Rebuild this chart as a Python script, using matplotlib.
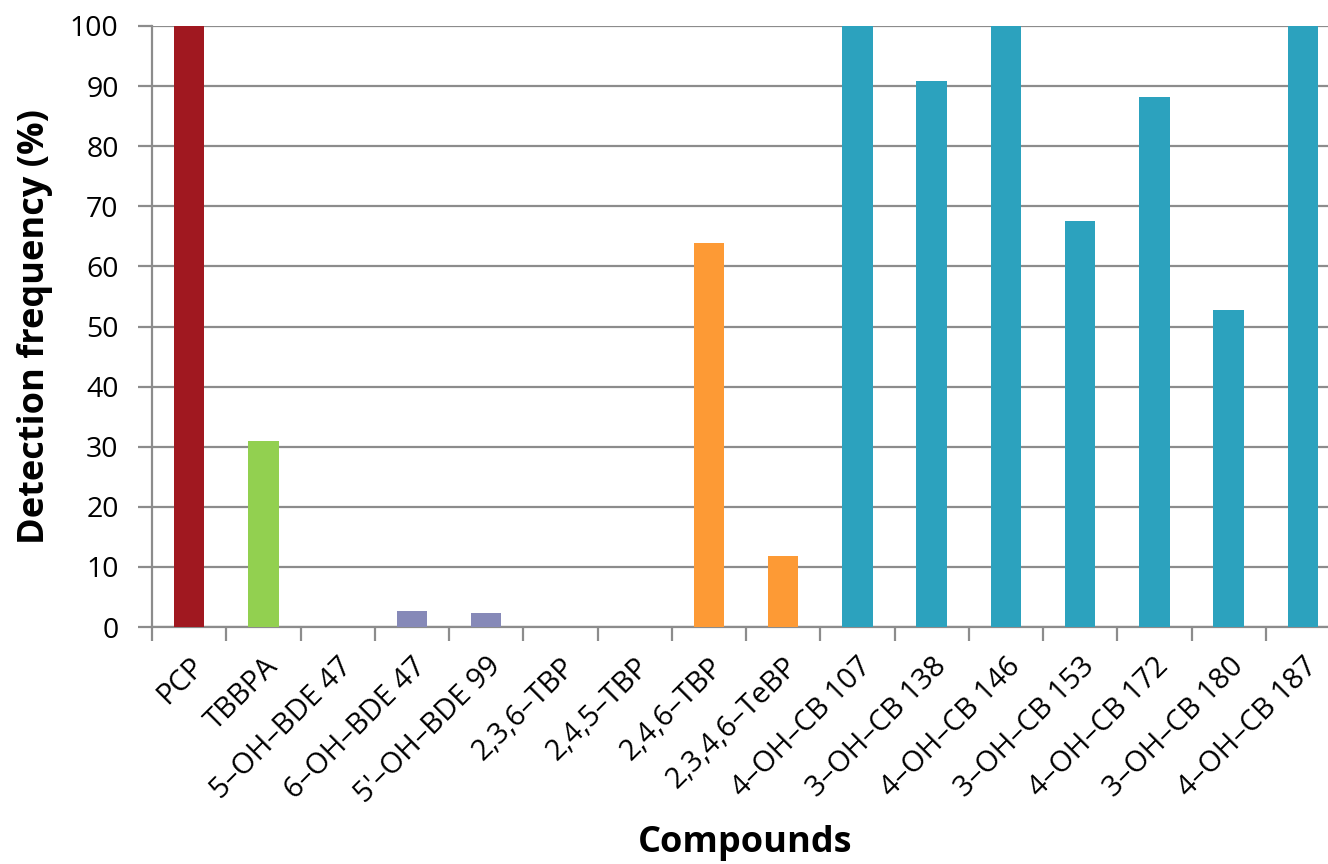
import matplotlib
matplotlib.use("Agg")
import matplotlib.pyplot as plt
import numpy as np

plt.rcParams['font.family'] = ['Open Sans', 'DejaVu Sans']

compounds = ["PCP", "TBBPA", "5–OH–BDE 47", "6–OH–BDE 47", "5'–OH–BDE 99",
             "2,3,6–TBP", "2,4,5–TBP", "2,4,6–TBP", "2,3,4,6–TeBP",
             "4–OH–CB 107", "3–OH–CB 138", "4–OH–CB 146", "3–OH–CB 153",
             "4–OH–CB 172", "3–OH–CB 180", "4–OH–CB 187"]
frequency = [100, 30.9, 0, 2.7, 2.3, 0, 0, 63.9, 11.8,
             100, 90.8, 100, 67.6, 88.2, 52.7, 100]
groups = ["PCP", "TBBPA", "OH-BDE", "OH-BDE", "OH-BDE", "BP", "BP", "BP", "BP",
          "OH-CB", "OH-CB", "OH-CB", "OH-CB", "OH-CB", "OH-CB", "OH-CB"]
group_colors = {"PCP": "#A01820", "TBBPA": "#92D050", "OH-BDE": "#8689B8",
                "BP": "#FD9A35", "OH-CB": "#2CA2BE"}
yticks = [0, 10, 20, 30, 40, 50, 60, 70, 80, 90, 100]

grid_col = "#8C8C8C"

fig = plt.figure(figsize=(13.28, 8.64), dpi=100)
ax = fig.add_axes([152 / 1328, 1 - 627 / 864, (1340 - 152) / 1328, (627 - 26) / 864])

x = np.arange(len(compounds))
ax.bar(x, frequency, width=0.41, color=[group_colors[g] for g in groups], zorder=3)

ax.set_xlim(-0.5, len(compounds) - 0.5)
ax.set_ylim(0, 100)
ax.set_yticks(yticks)
ax.set_yticklabels([str(t) for t in yticks], fontsize=20.5)
ax.yaxis.grid(True, color=grid_col, linewidth=1.6, zorder=1)
ax.set_axisbelow(True)

# category boundary ticks on the x axis, labels at category centres
ax.set_xticks(np.arange(len(compounds) + 1) - 0.5)
ax.set_xticklabels([])
ax.set_xticks(x, minor=True)
ax.set_xticklabels(compounds, minor=True, rotation=45, ha="right", va="top",
                   rotation_mode="anchor", fontsize=21)
ax.tick_params(axis="x", which="major", length=10, width=1.6, color=grid_col)
ax.tick_params(axis="x", which="minor", length=0, pad=18)
ax.tick_params(axis="y", length=10, width=1.6, color=grid_col, pad=14)

for side in ["top", "right"]:
    ax.spines[side].set_visible(False)
for side in ["left", "bottom"]:
    ax.spines[side].set_color(grid_col)
    ax.spines[side].set_linewidth(1.6)

ax.set_ylabel("Detection frequency (%)", fontsize=26, fontweight="bold", labelpad=12)
fig.text(745 / 1328, 1 - 843 / 864, "Compounds", fontsize=26, fontweight="bold",
         ha="center", va="center")

fig.savefig("out.png", dpi=100)
